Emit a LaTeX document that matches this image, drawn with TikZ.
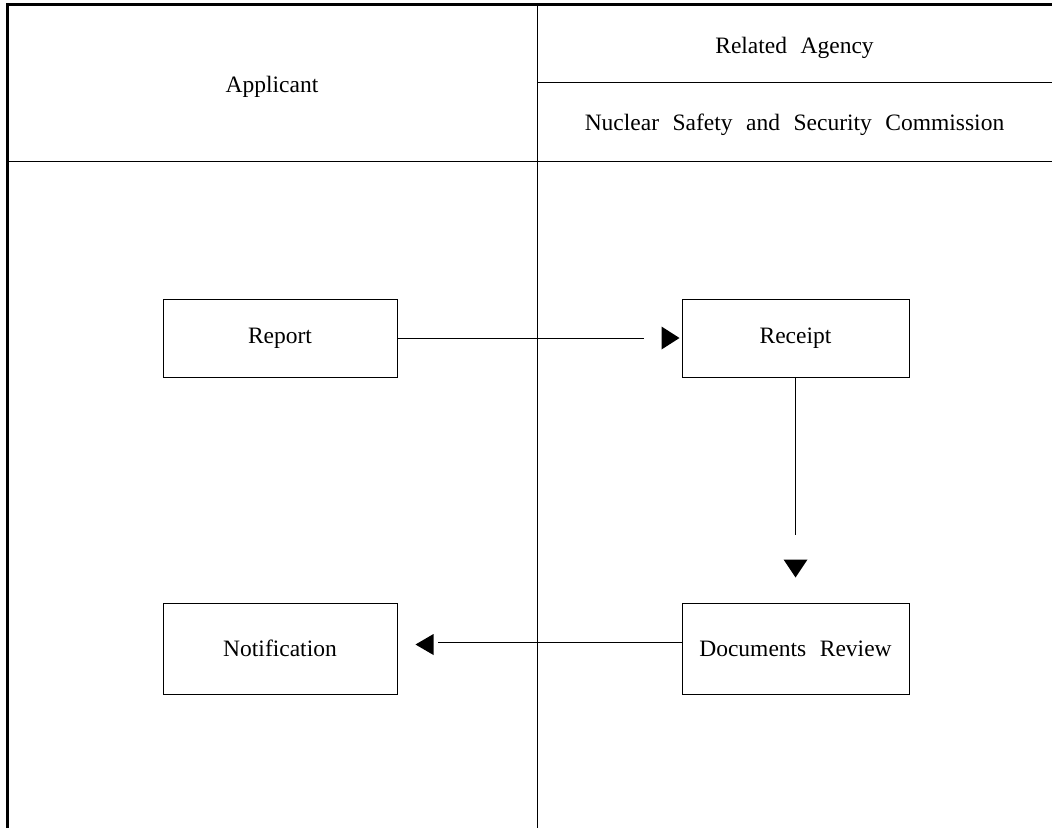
\documentclass[tikz,border=0pt]{standalone}
\usepackage{fontspec}
\setmainfont{Liberation Serif}
\usetikzlibrary{calc}
\newcommand\flowfont{\fontsize{23.5}{28}\selectfont\spaceskip 13.5pt\relax}
\begin{document}
\begin{tikzpicture}[x=1pt,y=-1pt,
  every node/.style={font={\flowfont}, inner sep=0pt},
  stepbox/.style={draw, line width=1pt, minimum width=234pt, minimum height=78pt},
  frame/.style={line width=3pt},
  rule/.style={line width=1pt},
  conn/.style={line width=1pt},
  head/.style={fill=black}]
\useasboundingbox (0,0) rectangle (1052,828);

% outer frame and lane dividers
\draw[frame] (7.5,828) -- (7.5,4.2) -- (1052,4.2);
\draw[rule] (7.5,161) -- (1052,161);
\draw[rule] (537,4) -- (537,828);
\draw[rule] (537,82) -- (1052,82);

% lane headings
\node[anchor=base] (hApp) at (272,92) {Applicant};
\node[anchor=base] (hRel) at (794.5,53) {Related Agency};
\node[anchor=base] (hNss) at (794.5,130) {Nuclear Safety and Security Commission};

% process steps
\node[stepbox] (report)  at (280,338)   {Report};
\node[stepbox, minimum width=227pt] (receipt) at (795.5,338) {Receipt};
\node[stepbox, minimum height=91pt] (note) at (280,648.5) {Notification};
\node[stepbox, minimum width=227pt, minimum height=91pt] (review) at (795.5,648.5) {Documents Review};

% Report -> Receipt
\draw[conn, shorten >=38pt] (report.east) -- (receipt.west);
\fill[head] ([xshift=-2pt]receipt.west) -- ++(-18,-11.5) -- ++(0,23) -- cycle;

% Receipt -> Documents Review
\draw[conn, shorten >=68pt] (receipt.south) -- (review.north);
\fill[head] ([yshift=25pt]review.north) -- ++(-12,-18) -- ++(24,0) -- cycle;

% Documents Review -> Notification
\draw[conn, shorten >=40pt] ([yshift=6.5pt]review.west) -- ([yshift=6.5pt]note.east);
\fill[head] ([xshift=18pt,yshift=4pt]note.east) -- ++(18,-10.5) -- ++(0,21) -- cycle;
\end{tikzpicture}
\end{document}
